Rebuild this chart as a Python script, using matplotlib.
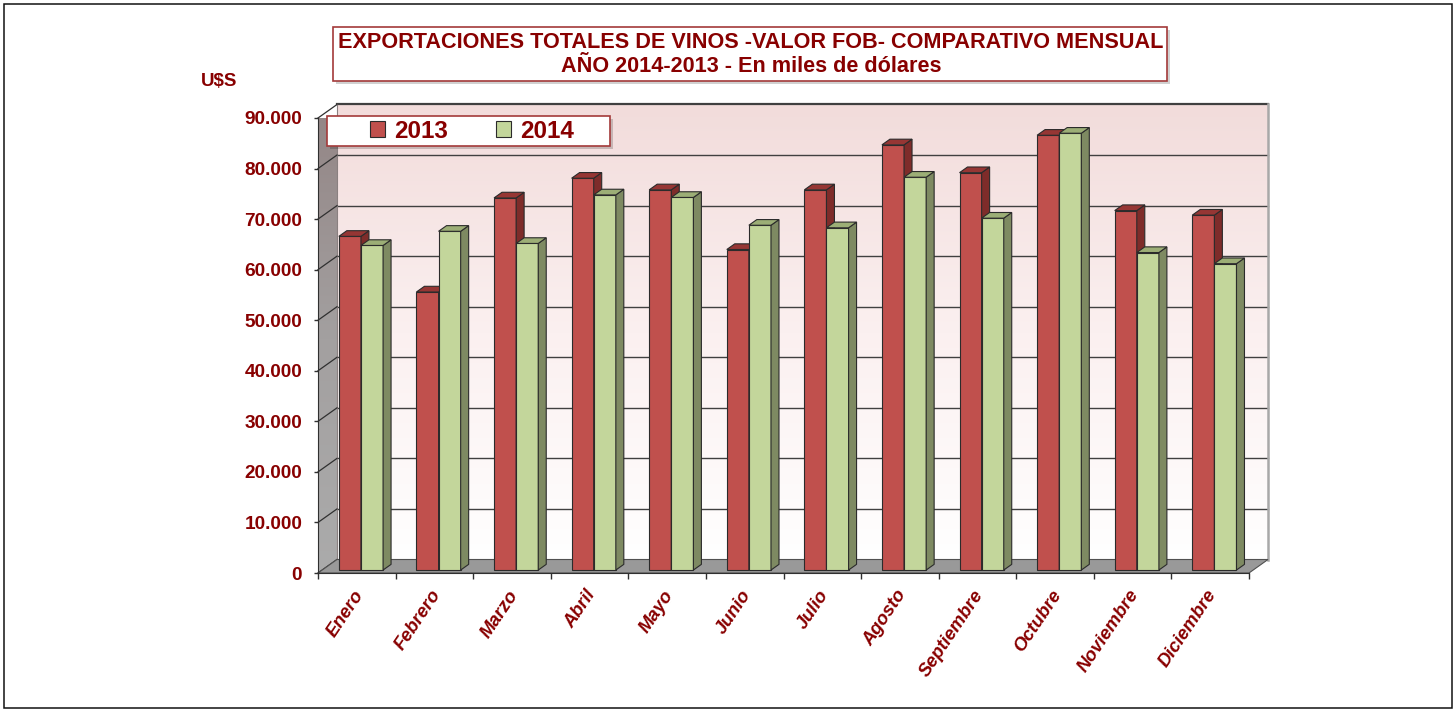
import matplotlib
matplotlib.use('Agg')
import matplotlib.pyplot as plt
import numpy as np
from matplotlib.patches import Polygon, Rectangle
from matplotlib.lines import Line2D
from matplotlib.transforms import ScaledTranslation
import matplotlib.colors as mcolors

# ---------------- data ----------------
months = ['Enero', 'Febrero', 'Marzo', 'Abril', 'Mayo', 'Junio', 'Julio',
          'Agosto', 'Septiembre', 'Octubre', 'Noviembre', 'Diciembre']
series_names = ['2013', '2014']
values_2013 = [66000, 55000, 73600, 77500, 75200, 63400, 75200, 84100, 78600, 86000, 71100, 70200]
values_2014 = [64200, 67000, 64600, 74200, 73700, 68200, 67700, 77700, 69600, 86400, 62800, 60600]
y_ticks = [0, 10000, 20000, 30000, 40000, 50000, 60000, 70000, 80000, 90000]
y_tick_labels = ['0', '10.000', '20.000', '30.000', '40.000', '50.000',
                 '60.000', '70.000', '80.000', '90.000']
title_lines = ['EXPORTACIONES TOTALES DE VINOS -VALOR FOB- COMPARATIVO MENSUAL',
               'AÑO 2014-2013 - En miles de dólares']
unit_label = 'U$S'

# ---------------- style ----------------
plt.rcParams['font.family'] = ['Liberation Sans', 'DejaVu Sans']
DARK_RED = '#880000'
FRONT = ['#C0504D', '#C3D69B']
SIDE = ['#7E2C2A', '#7E8A62']
TOP = ['#963634', '#9CAE76']
EDGE = '#2B2B2B'

W, H, DPI = 1454, 710, 100
fig = plt.figure(figsize=(W / DPI, H / DPI), dpi=DPI)
fig.patch.set_facecolor('white')

def fx(px):
    return px / W

def fy(py):
    return 1 - py / H

# front plane of the plot (pixels)
L, R, B, T = 318, 1249, 573, 118
ax = fig.add_axes([fx(L), fy(B), (R - L) / W, (B - T) / H])
ax.patch.set_alpha(0)
n = len(months)
ymax = y_ticks[-1]
xmin, xmax = -0.5, n - 0.5

# depth offset (pixels -> data units)
DX_PX, DY_PX = 19.0, 13.5
ddx = DX_PX / ((R - L) / n)
ddy = DY_PX * ymax / (B - T)

# back wall gradient
grad = np.linspace(0, 1, 256).reshape(-1, 1)
wall_cmap = mcolors.LinearSegmentedColormap.from_list('wall', ['#FFFFFF', '#FBF0F0', '#F2DCDB'])
ax.imshow(grad, cmap=wall_cmap, origin='lower', aspect='auto', interpolation='bicubic',
          extent=[xmin + ddx, xmax + ddx, ddy, ymax + ddy], clip_on=False, zorder=0.1)

# left wall
lw_poly = Polygon([(xmin, 0), (xmin, ymax), (xmin + ddx, ymax + ddy), (xmin + ddx, ddy)],
                  closed=True, facecolor='none', edgecolor='none', clip_on=False)
ax.add_patch(lw_poly)
left_cmap = mcolors.LinearSegmentedColormap.from_list('lwall', ['#ABABAB', '#A3A0A0', '#938585'])
im2 = ax.imshow(grad, cmap=left_cmap, origin='lower', aspect='auto', interpolation='bicubic',
                extent=[xmin, xmin + ddx, 0, ymax + ddy], zorder=0.2)
im2.set_clip_box(None)
im2.set_clip_path(lw_poly)
im2.set_clip_on(True)

# gridlines on back wall and left wall
for v in y_ticks:
    if v > 0:
        ax.add_line(Line2D([xmin + ddx, xmax + ddx], [v + ddy, v + ddy], color='#404040',
                           lw=1.6 if v == ymax else 1.0, clip_on=False, zorder=0.5))
    ax.add_line(Line2D([xmin, xmin + ddx], [v, v + ddy], color='#303030', lw=0.9,
                       clip_on=False, zorder=0.6))
# back wall edges
ax.add_line(Line2D([xmax + ddx, xmax + ddx], [ddy, ymax + ddy], color='#A8A8A8', lw=1.8,
                   clip_on=False, zorder=0.5))
ax.add_line(Line2D([xmin + ddx, xmin + ddx], [ddy, ymax + ddy], color='#8A8080', lw=0.8,
                   clip_on=False, zorder=0.55))

# floor
ax.add_patch(Polygon([(xmin, 0), (xmax, 0), (xmax + ddx, ddy), (xmin + ddx, ddy)], closed=True,
                     facecolor='#999999', edgecolor='#505050', lw=0.8, clip_on=False, zorder=0.8))

# bars
d0, d1 = 0.22, 0.64
bar_w = 0.285
x = np.arange(n)
all_vals = [values_2013, values_2014]
handles = []
for i in range(n):
    for s, vals in enumerate(all_vals):
        v = vals[i]
        xl = x[i] - bar_w + s * bar_w
        xr = xl + bar_w
        z = 3 + i * 0.1 + s * 0.03
        bc = ax.bar([xl], [v], width=bar_w, align='edge', bottom=d0 * ddy,
                    color=FRONT[s], edgecolor=EDGE, lw=0.8, zorder=z)
        for p in bc.patches:
            p.set_x(xl + d0 * ddx)
            p.set_height(v)
        if i == 0:
            handles.append(bc)
        ox, oy = d0 * ddx, d0 * ddy
        ex, ey = (d1 - d0) * ddx, (d1 - d0) * ddy
        ax.add_patch(Polygon([(xr + ox, oy), (xr + ox, v + oy), (xr + ox + ex, v + oy + ey),
                              (xr + ox + ex, oy + ey)], closed=True, facecolor=SIDE[s],
                             edgecolor=EDGE, lw=0.8, clip_on=False, zorder=z + 0.01))
        ax.add_patch(Polygon([(xl + ox, v + oy), (xr + ox, v + oy), (xr + ox + ex, v + oy + ey),
                              (xl + ox + ex, v + oy + ey)], closed=True, facecolor=TOP[s],
                             edgecolor=EDGE, lw=0.8, clip_on=False, zorder=z + 0.01))

ax.set_xlim(xmin, xmax)
ax.set_ylim(0, ymax)

# axes / ticks
for sp in ['top', 'right']:
    ax.spines[sp].set_visible(False)
ax.spines['left'].set_color('#303030')
ax.spines['bottom'].set_color('#303030')
ax.spines['left'].set_zorder(1)
ax.spines['bottom'].set_zorder(1)
ax.set_yticks(y_ticks, y_tick_labels)
ax.tick_params(axis='y', length=3, width=1, color='#303030', pad=8.4,
               labelcolor=DARK_RED, labelsize=13.7)
for t in ax.get_yticklabels():
    t.set_fontweight('bold')
ax.set_xticks(x, months)
ax.set_xticks(np.arange(n + 1) - 0.5, minor=True)
ax.tick_params(axis='x', which='major', length=0, pad=13.5, labelcolor=DARK_RED, labelsize=13.3)
ax.tick_params(axis='x', which='minor', length=4.5, width=1, color='#303030')
off = ScaledTranslation(3 / DPI, 0, fig.dpi_scale_trans)
for t in ax.get_xticklabels():
    t.set_rotation(56)
    t.set_ha('right')
    t.set_va('center')
    t.set_rotation_mode('anchor')
    t.set_fontweight('bold')
    t.set_fontstyle('italic')
    t.set_transform(t.get_transform() + off)

# boxes with shadow
def shadow_box(x0, y0, x1, y1, z):
    fig.add_artist(Rectangle((fx(x0 + 3), fy(y1 + 3)), (x1 - x0) / W, (y1 - y0) / H,
                             transform=fig.transFigure, facecolor='#000000', alpha=0.18,
                             edgecolor='none', zorder=z))
    fig.add_artist(Rectangle((fx(x0), fy(y1)), (x1 - x0) / W, (y1 - y0) / H,
                             transform=fig.transFigure, facecolor='white',
                             edgecolor='#A33A3A', lw=1.2, zorder=z + 0.1))

shadow_box(333, 27, 1167, 81, 5)
fig.text(fx(751), fy(43), title_lines[0], ha='center', va='center', color=DARK_RED,
         fontsize=15.6, fontweight='bold', zorder=6)
fig.text(fx(751), fy(66), title_lines[1], ha='center', va='center', color=DARK_RED,
         fontsize=15.6, fontweight='bold', zorder=6)

fig.text(fx(219), fy(82), unit_label, ha='center', va='center', color=DARK_RED,
         fontsize=13.5, fontweight='bold')

# legend
shadow_box(327, 116, 610, 146, 10)
leg = fig.legend(handles, series_names, loc='center', bbox_to_anchor=(fx(472), fy(131)),
                 ncol=2, frameon=False,
                 handlelength=0.62, handleheight=0.62, handletextpad=0.35, columnspacing=2.0,
                 prop={'weight': 'bold', 'size': 17.5})
for t in leg.get_texts():
    t.set_color(DARK_RED)
leg.set_zorder(12)

# outer border
fig.add_artist(Rectangle((fx(4), fy(708)), (1452 - 4) / W, (708 - 4) / H,
                         transform=fig.transFigure, facecolor='none', edgecolor='#111111',
                         lw=1.1, zorder=20))

fig.savefig('out.png', dpi=DPI)
